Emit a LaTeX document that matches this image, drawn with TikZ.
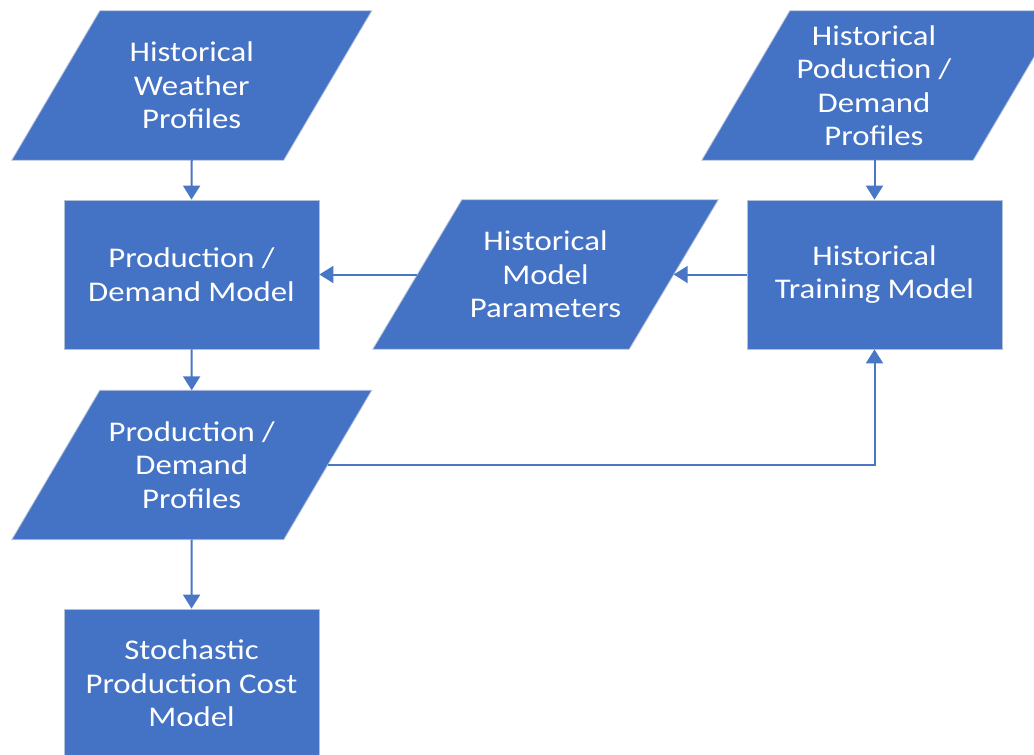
\documentclass[tikz,border=0pt]{standalone}
\usepackage{fontspec}
\setmainfont{Carlito}[FakeStretch=1.15]
\usetikzlibrary{arrows.meta,calc,backgrounds}
\definecolor{boxfill}{HTML}{4472C4}
\definecolor{boxedge}{HTML}{B4C0D8}
\definecolor{linkcol}{HTML}{4A76C6}
\tikzset{
  lbl/.style={inner sep=0pt, align=center, text=white,
    font=\fontsize{28.5}{33.5}\selectfont, minimum height=149pt},
  procbox/.style={lbl, fill=boxfill, draw=boxedge, line width=0.8pt, minimum width=255pt},
  databox/.style={lbl},
  link/.style={draw=linkcol, line width=2pt, -{Triangle[width=17pt,length=14pt]}},
  parafill/.style={fill=boxfill, draw=boxedge, line width=0.8pt}
}
\newcommand\skewfill[3]{% node, half skew, extra x shift
  \path[parafill] ($(#1.north west)+(#2+#3,0)$) -- ($(#1.north east)+(#2+#3,0)$)
     -- ($(#1.south east)+(-#2+#3,0)$) -- ($(#1.south west)+(-#2+#3,0)$) -- cycle;}
\begin{document}
\begin{tikzpicture}[x=1pt,y=-1pt]
\clip (0,0) rectangle (1034,755);
% data (parallelogram) nodes
\node[databox, minimum width=271.5pt] (weather) at (191.75,85.5) {Historical\\Weather\\Profiles};
\node[databox, minimum width=271pt] (histprof) at (874,85.5) {Historical\\Poduction /\\Demand\\Profiles};
\node[databox, minimum width=256pt] (params) at (545.5,274.5) {Historical\\Model\\Parameters};
\node[databox, minimum width=271.5pt] (prof) at (191.75,465) {Production /\\Demand\\Profiles};
\begin{pgfonlayer}{background}
  \skewfill{weather}{44}{0}
  \skewfill{histprof}{44}{7.5}
  \skewfill{params}{44.5}{0}
  \skewfill{prof}{44}{0}
\end{pgfonlayer}
% process nodes
\node[procbox] (model) at (191.5,274.5) {Production /\\Demand Model};
\node[procbox] (train) at (874.5,274.5) {Historical\\Training Model};
\node[procbox] (stoch) at (191.5,683.5) {Stochastic\\Production Cost\\Model};
% connectors
\draw[link] (weather.south) -- (model.north);
\draw[link] (model.south) -- (prof.north);
\draw[link] (prof.south) -- (stoch.north);
\draw[link] (params.west) -- (model.east);
\draw[link] (train.west) -- (params.east);
\draw[link] (train.north |- histprof.south) -- (train.north);
\draw[link] (prof.east) -| (train.south);
\end{tikzpicture}
\end{document}
